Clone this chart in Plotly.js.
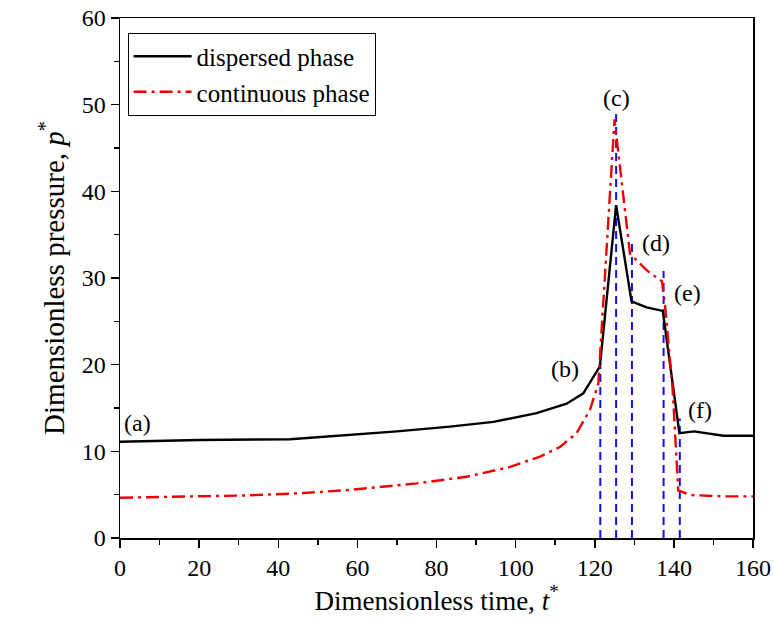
<!DOCTYPE html>
<html>
<head>
<meta charset="utf-8">
<script src="https://cdn.plot.ly/plotly-3.0.1.min.js"></script>
<style>html,body{margin:0;padding:0;background:#fff;}#chart{width:774px;height:623px;}</style>
</head>
<body>
<div id="chart"></div>
<script>
// Dispersed phase (black solid)
const dispT = [0, 20, 43, 58, 70, 83.4, 94.4, 105.3, 112.9, 117.1, 121.3, 125.4, 129.3, 133.1, 137.2, 141.4, 145.1, 152.5, 160];
const dispP = [11.1, 11.3, 11.4, 11.9, 12.3, 12.85, 13.4, 14.4, 15.5, 16.7, 19.8, 38.4, 27.3, 26.6, 26.2, 12.1, 12.3, 11.8, 11.8];

// Continuous phase (red dash-dot)
const contT = [0, 15, 31, 45, 58, 75, 87.6, 98.6, 106.2, 111.2, 115.4, 118.8, 120.9, 125.0, 128.9, 133.1, 137.0, 137.8, 139.7, 141.1, 144.1, 152.5, 160];
const contP = [4.65, 4.75, 4.9, 5.15, 5.54, 6.3, 7.07, 8.2, 9.4, 10.5, 12.1, 14.8, 17.8, 48.3, 32.8, 30.9, 29.6, 26.7, 17.1, 5.5, 4.96, 4.8, 4.8];

// Blue dashed markers (vertical lines)
const markT = [121.4, 125.4, 129.4, 137.4, 141.5];
const markTop = [20.2, 49.3, 34.4, 30.8, 13.8];

// Annotation labels
const labelText = ["(a)", "(b)", "(c)", "(d)", "(e)", "(f)"];
const labelT = [4.5, 112.5, 125.5, 135.5, 143.5, 146.5];
const labelP = [13.3, 19.5, 50.8, 34.0, 28.3, 14.8];

const serif = '"Times New Roman", "Liberation Serif", "DejaVu Serif", serif';

const traces = [];
markT.forEach((t, i) => {
  traces.push({
    x: [t, t], y: [0, markTop[i]], mode: "lines", showlegend: false, hoverinfo: "skip",
    line: {color: "#1010ee", width: 2, dash: "8px,5px"}
  });
});
traces.push({
  x: dispT, y: dispP, mode: "lines", name: "dispersed phase",
  line: {color: "#000000", width: 2.4}
});
traces.push({
  x: contT, y: contP, mode: "lines", name: "continuous phase",
  line: {color: "#ee0000", width: 2.4, dash: "13px,5px,3px,5px"}
});

const annotations = labelText.map((s, i) => ({
  x: labelT[i], y: labelP[i], text: s, showarrow: false,
  font: {family: serif, size: 24, color: "#000"}, xanchor: "center", yanchor: "middle"
}));

const layout = {
  width: 774, height: 623,
  margin: {l: 120, r: 21, t: 18, b: 85},
  paper_bgcolor: "#fff", plot_bgcolor: "#fff",
  font: {family: serif, size: 24, color: "#000"},
  showlegend: true,
  legend: {
    x: 0.012, y: 0.972, xanchor: "left", yanchor: "top",
    bgcolor: "#fff", bordercolor: "#000", borderwidth: 1,
    font: {family: serif, size: 25, color: "#000"},
    tracegroupgap: 0, itemwidth: 58
  },
  xaxis: {
    range: [0, 160], tickmode: "linear", tick0: 0, dtick: 20,
    ticks: "outside", ticklen: 8, tickwidth: 1.5, tickcolor: "#000",
    minor: {dtick: 10, ticks: "outside", ticklen: 5, tickwidth: 1.5, tickcolor: "#000"},
    showline: true, linecolor: "#000", linewidth: 1.5, mirror: true,
    showgrid: false, zeroline: false,
    tickfont: {family: serif, size: 24, color: "#000"},
    title: {text: "Dimensionless time, <i>t</i><sup>*</sup>", font: {family: serif, size: 27, color: "#000"}, standoff: 8}
  },
  yaxis: {
    range: [0, 60], tickmode: "linear", tick0: 0, dtick: 10,
    ticks: "outside", ticklen: 8, tickwidth: 1.5, tickcolor: "#000",
    minor: {dtick: 5, ticks: "outside", ticklen: 5, tickwidth: 1.5, tickcolor: "#000"},
    showline: true, linecolor: "#000", linewidth: 1.5, mirror: true,
    showgrid: false, zeroline: false,
    tickfont: {family: serif, size: 24, color: "#000"},
    title: {text: "Dimensionless pressure, <i>p</i><sup>*</sup>", font: {family: serif, size: 29, color: "#000"}, standoff: 8}
  },
  annotations: annotations
};

Plotly.newPlot("chart", traces, layout, {displayModeBar: false, staticPlot: true});
</script>
</body>
</html>
